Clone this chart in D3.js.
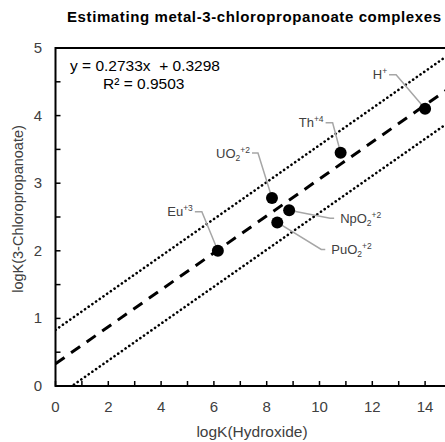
<!DOCTYPE html>
<html><head><meta charset="utf-8">
<script src="https://cdn.jsdelivr.net/npm/d3@7"></script>
<style>body{margin:0;background:#fff;} svg{display:block;font-family:"Liberation Sans",Arial,sans-serif;}</style>
</head><body>
<script>
// ---- data ----
const species   = ["H", "Th", "UO2", "NpO2", "PuO2", "Eu"];
const charges   = ["+", "+4", "+2", "+2", "+2", "+3"];
const hydroxide = [14.0, 10.8, 8.2, 8.85, 8.4, 6.15];
const chloroprop= [4.10, 3.45, 2.78, 2.60, 2.42, 2.00];
const slope = 0.2733, intercept = 0.3298, r2 = 0.9503, band = 0.5;
const xTicks = [0, 2, 4, 6, 8, 10, 12, 14];
const yTicks = [0, 1, 2, 3, 4, 5];
// label layout (pixel offsets from point: text anchor, elbow)
const labelSide = ["left","left","left","right","right","left"];
const labelDx   = [-38, -17, -22, 51, 54, -25];
const labelDy   = [-34, -30, -45, 8, 27, -39];
const elbowDx   = [-29, -8, -14, 41, 44, -16];

const W = 445, H = 442;
const svg = d3.select("body").append("svg").attr("width", W).attr("height", H);
const x = d3.scaleLinear().domain([0, 16]).range([55.5, 55.5 + 16*26.4]);
const y = d3.scaleLinear().domain([0, 5]).range([386, 48]);

// title
svg.append("text").attr("x", 67).attr("y", 22)
  .attr("font-size", 15).attr("font-weight","bold").attr("fill","#000")
  .attr("textLength", 374).attr("lengthAdjust","spacing")
  .text("Estimating metal-3-chloropropanoate complexes");

// clip for plot
svg.append("clipPath").attr("id","clip").append("rect")
  .attr("x", x(0)).attr("y", y(5)).attr("width", x(16)-x(0)).attr("height", y(0)-y(5));
const g = svg.append("g").attr("clip-path","url(#clip)");

const line = d3.line().x(d => x(d[0])).y(d => y(d[1]));
const xs = [0, 16];
const mk = off => xs.map(v => [v, slope*v + intercept + off]);
g.append("path").attr("d", line(mk(band))).attr("fill","none").attr("stroke","#000")
  .attr("stroke-width", 2.6).attr("stroke-dasharray","0.1,4.4").attr("stroke-linecap","round");
g.append("path").attr("d", line(mk(-band))).attr("fill","none").attr("stroke","#000")
  .attr("stroke-width", 2.6).attr("stroke-dasharray","0.1,4.4").attr("stroke-linecap","round");
g.append("path").attr("d", line(mk(0))).attr("fill","none").attr("stroke","#000")
  .attr("stroke-width", 3).attr("stroke-dasharray","11,8");

// leaders
species.forEach((s, i) => {
  const px = x(hydroxide[i]), py = y(chloroprop[i]);
  const endDx = labelSide[i] === "left" ? labelDx[i] + 2 : labelDx[i] - 6;
  svg.append("polyline")
    .attr("points", [[px, py], [px + elbowDx[i], py + labelDy[i]], [px + endDx, py + labelDy[i]]].map(p => p.join(",")).join(" "))
    .attr("fill","none").attr("stroke","#a6a6a6").attr("stroke-width",1.5);
});

// points
svg.selectAll("circle.pt").data(species).enter().append("circle")
  .attr("cx", (d,i) => x(hydroxide[i])).attr("cy", (d,i) => y(chloroprop[i])).attr("r", 6).attr("fill","#000");

// labels
species.forEach((s, i) => {
  const px = x(hydroxide[i]), py = y(chloroprop[i]);
  const t = svg.append("text").attr("x", px + labelDx[i]).attr("y", py + labelDy[i] + 4.5)
    .attr("text-anchor", labelSide[i] === "left" ? "end" : "start")
    .attr("font-size", 13).attr("fill", "#404040");
  if (s.endsWith("2")) {
    t.append("tspan").text(s.slice(0, -1));
    t.append("tspan").attr("font-size", 8.5).attr("dy", 3).text("2");
    t.append("tspan").attr("font-size", 8.5).attr("dy", -8).text(charges[i]);
  } else {
    t.append("tspan").text(s);
    t.append("tspan").attr("font-size", 8.5).attr("dy", -5).text(charges[i]);
  }
});

// frame
svg.append("rect").attr("x", x(0)).attr("y", y(5)).attr("width", x(16)-x(0)).attr("height", y(0)-y(5))
  .attr("fill","none").attr("stroke","#000").attr("stroke-width",2);

// ticks
const xMinor = d3.range(0, 17, 1), yMinor = d3.range(0, 5.01, 0.5);
svg.selectAll("line.xt").data(xMinor).enter().append("line")
  .attr("x1", d => x(d)).attr("x2", d => x(d)).attr("y1", y(0)).attr("y2", y(0) - 5)
  .attr("stroke","#000").attr("stroke-width",1.5);
svg.selectAll("line.yt").data(yMinor).enter().append("line")
  .attr("x1", x(0)).attr("x2", x(0) + 5).attr("y1", d => y(d)).attr("y2", d => y(d))
  .attr("stroke","#000").attr("stroke-width",1.5);

// tick labels
svg.selectAll("text.xl").data(xTicks).enter().append("text")
  .attr("x", d => x(d)).attr("y", 412).attr("text-anchor","middle")
  .attr("font-size", 15).attr("fill","#404040").text(d => d);
svg.selectAll("text.yl").data(yTicks).enter().append("text")
  .attr("x", 42).attr("y", d => y(d) + 5).attr("text-anchor","end")
  .attr("font-size", 15).attr("fill","#404040").text(d => d);

// axis titles
svg.append("text").attr("x", 252).attr("y", 437).attr("text-anchor","middle")
  .attr("font-size", 15.5).attr("fill","#404040").text("logK(Hydroxide)");
svg.append("text").attr("transform","translate(23,209) rotate(-90)").attr("text-anchor","middle")
  .attr("font-size", 14.5).attr("fill","#404040").text("logK(3-Chloropropanoate)");

// equation
svg.append("text").attr("x", 70).attr("y", 71).attr("font-size", 15.5).attr("fill","#000")
  .style("white-space","pre").text(`y = ${slope}x  + ${intercept}`);
svg.append("text").attr("x", 103).attr("y", 89).attr("font-size", 15.5).attr("fill","#000")
  .text(`R² = ${r2}`);
</script>
</body></html>
